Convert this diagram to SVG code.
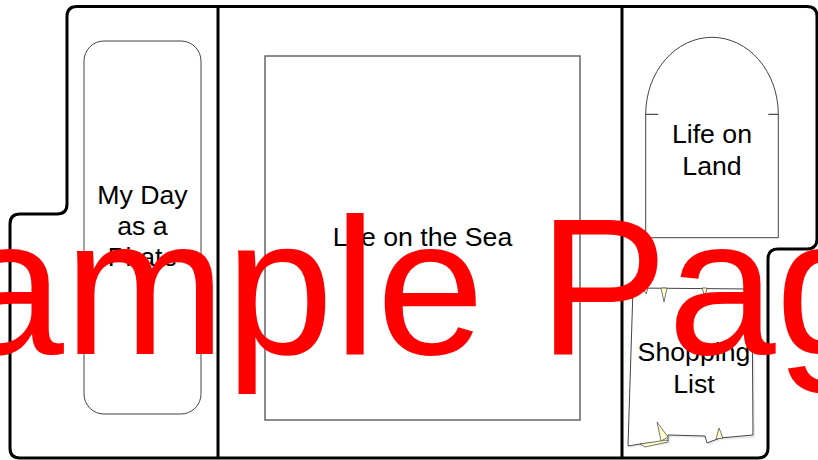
<svg xmlns="http://www.w3.org/2000/svg" width="818" height="460" viewBox="0 0 818 460">
  <style>
    .outline { fill: none; stroke: #000; stroke-width: 3; stroke-linejoin: round; }
    .shape { fill: #fff; stroke: #444; stroke-width: 1; }
    .sea { fill: #fff; stroke: #666; stroke-width: 1.5; }
    .label { font-family: "Liberation Sans", Arial, sans-serif; font-size: 26.7px; fill: #000; text-anchor: middle; }
    .flap { fill: #ffffc8; stroke: #555; stroke-width: 0.8; stroke-linejoin: round; }
    .mark { font-family: "Liberation Sans", Arial, sans-serif; font-size: 194px; fill: #ff0000; text-anchor: middle; }
  </style>
  <rect x="0" y="0" width="818" height="460" fill="#fff"/>

  <g id="folder-outline">
    <path class="outline" d="M 77,6.5 H 807 Q 817,6.5 817,16.5 V 239 Q 817,249 807,249 H 778 Q 768,249 768,259 V 448 Q 768,458 758,458 H 20 Q 10,458 10,448 V 224 Q 10,214 20,214 H 57 Q 67,214 67,204 V 16.5 Q 67,6.5 77,6.5 Z"/>
    <line class="outline" x1="218" y1="6.5" x2="218" y2="458"/>
    <line class="outline" x1="622" y1="6.5" x2="622" y2="458"/>
  </g>

  <g id="connectors"></g>

  <g id="my-day">
    <rect class="shape" x="84" y="41" width="117" height="373" rx="20" ry="20"/>
    <text class="label" x="142.5" y="204">My Day</text>
    <text class="label" x="142.5" y="235">as a</text>
    <text class="label" x="142.5" y="266">Pirate</text>
  </g>

  <g id="life-on-sea">
    <rect class="sea" x="265" y="56" width="315" height="364"/>
    <text class="label" x="422.5" y="246">Life on the Sea</text>
  </g>

  <g id="life-on-land">
    <path class="shape" d="M 645.7,114.3 A 66.3,77 0 0 1 778.3,114.3 V 237.7 H 645.7 Z"/>
    <line x1="645.7" y1="114.3" x2="658.3" y2="114.3" stroke="#222" stroke-width="1"/>
    <line x1="768.3" y1="114.3" x2="778.3" y2="114.3" stroke="#222" stroke-width="1"/>
    <text class="label" x="712" y="143">Life on</text>
    <text class="label" x="712" y="175">Land</text>
  </g>

  <g id="shopping-list">
    <path d="M 635,290 L 754,291 L 755,438 L 722,440 L 709,445 L 707,438 L 670,437 L 670,444 L 642,446 L 630,448 Z" fill="#ddd" opacity="0.6"/>
    <path class="shape" d="M 633,288 L 752,289 L 753,435 L 720,438 L 707,443 L 705,436 L 668,435 L 668,441 L 640,444 L 628,446 Z"/>
    <polygon class="flap" points="643,288 648,288 646,294"/>
    <polygon class="flap" points="661,288 667,288 664,302"/>
    <polygon class="flap" points="702,288 707,288 705,297"/>
    <polygon class="flap" points="657,422 668,437 661,441"/>
    <polygon class="flap" points="640,444 667,440 668,442 645,447"/>
    <polygon class="flap" points="719,428 723,438 716,439"/>
    <text class="label" x="694" y="361">Shopping</text>
    <text class="label" x="694" y="393">List</text>
  </g>

  <text class="mark" x="409" y="354">Sample Page</text>
</svg>
